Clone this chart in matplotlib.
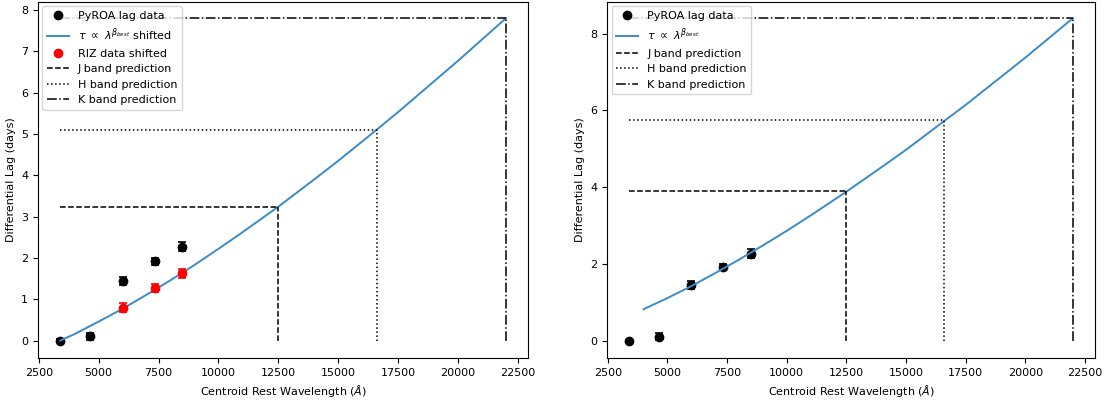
import numpy as np
import matplotlib.pyplot as plt

# ------------------------------------------------------------
# Data
# ------------------------------------------------------------
# PyROA lags (same in both panels)
pyroa_wave = [3400, 4650, 6000, 7350, 8500]
pyroa_lag = [0.0, 0.10, 1.45, 1.92, 2.27]
pyroa_err = [0.03, 0.09, 0.10, 0.09, 0.11]

# RIZ data shifted (left panel)
riz_wave = [6000, 7350, 8500]
riz_lag = [0.80, 1.27, 1.63]
riz_err = [0.10, 0.09, 0.11]

# fitted power-law curve, left panel (shifted to start at 0)
curve_wave_l = [3400, 4000, 5000, 6000, 7000, 8000, 9000, 10000, 11000,
                12500, 14000, 15000, 16600, 17500, 20000, 22000]
curve_lag_l = [0.00, 0.16, 0.46, 0.77, 1.11, 1.46, 1.83, 2.22, 2.62,
               3.24, 3.90, 4.35, 5.10, 5.53, 6.77, 7.80]

# fitted power-law curve, right panel
curve_wave_r = [4000, 5000, 6000, 7000, 8000, 9000, 10000, 11000,
                12500, 14000, 15000, 16600, 17500, 20000, 22000]
curve_lag_r = [0.82, 1.11, 1.42, 1.76, 2.11, 2.48, 2.86, 3.26,
               3.88, 4.53, 4.97, 5.72, 6.14, 7.37, 8.40]

# band predictions
band_names = ["J", "H", "K"]
band_wave = [12500, 16600, 22000]
band_lag_l = [3.24, 5.10, 7.80]
band_lag_r = [3.90, 5.74, 8.40]
band_styles = ["--", ":", "-."]
x_start = 3400

plt.rcParams['font.size'] = 8

fig = plt.figure(figsize=(11.18, 4.05), dpi=100)
ax1 = fig.add_axes([0.034, 0.116, 0.4385, 0.879])
ax2 = fig.add_axes([0.543, 0.116, 0.4365, 0.879])


def draw_panel(ax, curve_w, curve_l, band_l, curve_label, riz=False):
    ax.errorbar(pyroa_wave, pyroa_lag, yerr=pyroa_err, fmt='none',
                ecolor='k', capsize=3, elinewidth=1.2, capthick=1.2)
    ax.plot(pyroa_wave, pyroa_lag, 'o', color='k', markersize=6,
            label='PyROA lag data')
    ax.plot(curve_w, curve_l, color='#3a8bc8', linewidth=1.4,
            label=curve_label)
    if riz:
        ax.errorbar(riz_wave, riz_lag, yerr=riz_err, fmt='none',
                    ecolor='r', capsize=3, elinewidth=1.2, capthick=1.2)
        ax.plot(riz_wave, riz_lag, 'o', color='r', markersize=6,
                label='RIZ data shifted')
    for name, w, l, ls in zip(band_names, band_wave, band_l, band_styles):
        ax.plot([x_start, w], [l, l], color='k', linestyle=ls,
                linewidth=1.1, label=f'{name} band prediction')
        ax.plot([w, w], [0, l], color='k', linestyle=ls, linewidth=1.1)
    ax.set_xlabel(r'Centroid Rest Wavelength ($\AA$)')
    ax.set_ylabel('Differential Lag (days)')
    ax.legend(loc='upper left', fontsize=8, handlelength=2.0,
              borderaxespad=0.4)


draw_panel(ax1, curve_wave_l, curve_lag_l, band_lag_l,
           r'$\tau\ \propto\ \lambda^{\beta_{best}}$ shifted', riz=True)
draw_panel(ax2, curve_wave_r, curve_lag_r, band_lag_r,
           r'$\tau\ \propto\ \lambda^{\beta_{best}}$')

ax1.set_xticks(np.arange(2500, 22501, 2500))
ax2.set_xticks(np.arange(2500, 22501, 2500))
ax1.set_yticks(range(0, 9))
ax2.set_yticks(range(0, 9, 2))

plt.savefig("out.png", dpi=100)
